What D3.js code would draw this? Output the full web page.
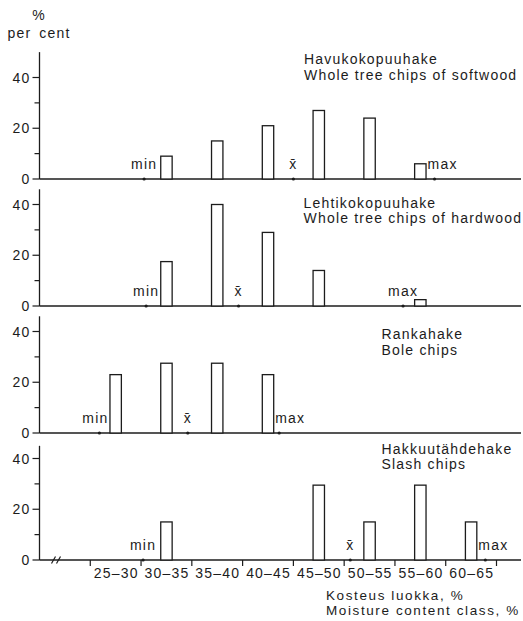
<!DOCTYPE html>
<html>
<head>
<meta charset="utf-8">
<script src="https://cdn.jsdelivr.net/npm/d3@7"></script>
<style>
  html, body { margin: 0; padding: 0; background: #fff; }
  svg text { font-family: "Liberation Sans", Arial, sans-serif; fill: #1c1c1c; letter-spacing: 1.2px; }
</style>
</head>
<body>
<svg id="chart" width="523" height="621"></svg>
<script>
// ---------- DATA ----------
const classLabels = ["25–30", "30–35", "35–40", "40–45", "45–50", "50–55", "55–60", "60–65"];
const classStart  = [25, 30, 35, 40, 45, 50, 55, 60];
const classWidth  = 5;

const panelNamesFi = ["Havukokopuuhake", "Lehtikokopuuhake", "Rankahake", "Hakkuutähdehake"];
const panelNamesEn = ["Whole tree chips of softwood", "Whole tree chips of hardwood", "Bole chips", "Slash chips"];

const softwood = [0, 9, 15, 21, 27, 24, 6, 0];
const hardwood = [0, 17.5, 40, 29, 14, 0, 2.5, 0];
const bole     = [23, 27.5, 27.5, 23, 0, 0, 0, 0];
const slash    = [0, 15, 0, 0, 29.5, 15, 29.5, 15];

// moisture statistics (min, mean, max), %
const statMin  = [30.3, 30.5, 25.9, 30.2];
const statMean = [45.0, 39.6, 34.6, 50.6];
const statMax  = [58.9, 55.8, 43.6, 63.9];

const yTicks = [0, 10, 20, 30, 40];
const yTickLabels = ["0", "", "20", "", "40"];
const xTicks = [25, 30, 35, 40, 45, 50, 55, 60, 65];

const seriesList = [softwood, hardwood, bole, slash];

// ---------- LAYOUT (styles / positions) ----------
const svg = d3.select("#chart");
const axisX0 = 39.5;
const x = d3.scaleLinear().domain([20, 65]).range([axisX0, 496.5]);
const xEnd = 521;
const firstBase = 179, panelStep = 127, pxPer40 = 101.5;
const axisTopValue = [50, 46, 46, 45];
const titlePos = [ {x: 304, y: 64}, {x: 303.5, y: 207.5}, {x: 381.5, y: 339}, {x: 381.5, y: 453.5} ];
const barW = 11.4;
const ink = "#1c1c1c";

seriesList.forEach((vals, i) => {
  const base = firstBase + i * panelStep;
  const y = d3.scaleLinear().domain([0, 40]).range([base, base - pxPer40]);
  const g = svg.append("g");

  // y axis line
  g.append("line").attr("x1", axisX0).attr("x2", axisX0)
    .attr("y1", y(axisTopValue[i])).attr("y2", base)
    .attr("stroke", ink).attr("stroke-width", 1.3);
  // y ticks
  yTicks.forEach((t, k) => {
    const major = yTickLabels[k] !== "";
    g.append("line").attr("x1", axisX0 - (major ? 7 : 5)).attr("x2", axisX0)
      .attr("y1", y(t)).attr("y2", y(t)).attr("stroke", ink).attr("stroke-width", 1.2);
    if (major) {
      g.append("text").attr("x", axisX0 - 9).attr("y", y(t) + 5)
        .attr("text-anchor", "end").attr("font-size", 14).text(yTickLabels[k]);
    }
  });
  // x axis line
  g.append("line").attr("x1", axisX0).attr("x2", xEnd).attr("y1", base).attr("y2", base)
    .attr("stroke", ink).attr("stroke-width", 1.3);

  // bars
  const bars = [];
  vals.forEach((v, k) => {
    if (v <= 0) return;
    const cx = x(classStart[k] + classWidth / 2);
    const r = {x0: cx - barW / 2, x1: cx + barW / 2, top: y(v)};
    bars.push(r);
    g.append("rect").attr("x", r.x0).attr("y", r.top).attr("width", barW).attr("height", base - r.top)
      .attr("fill", "#fff").attr("stroke", ink).attr("stroke-width", 1.3);
  });

  // statistic markers
  const marks = [
    {v: statMin[i], label: "min"},
    {v: statMean[i], label: "x\u0304"},
    {v: statMax[i], label: "max"}
  ];
  const labelBase = base - 10;
  marks.forEach(m => {
    const dx = x(m.v);
    g.append("circle").attr("cx", dx).attr("cy", base).attr("r", 1.6).attr("fill", ink);
    const t = g.append("text").attr("x", dx).attr("y", labelBase)
      .attr("text-anchor", "middle").attr("font-size", 14).text(m.label);
    const w = t.node().getComputedTextLength();
    let left = dx - w / 2, right = dx + w / 2;
    bars.forEach(b => {
      if (b.top < labelBase && right > b.x0 - 1 && left < b.x1 + 1) {
        if (dx < (b.x0 + b.x1) / 2) { right = b.x0 - 1.5; left = right - w; }
        else { left = b.x1 + 1.5; right = left + w; }
      }
    });
    t.attr("text-anchor", "start").attr("x", left);
  });

  // panel titles
  g.append("text").attr("x", titlePos[i].x).attr("y", titlePos[i].y).attr("font-size", 14).text(panelNamesFi[i]);
  g.append("text").attr("x", titlePos[i].x).attr("y", titlePos[i].y + 15.5).attr("font-size", 14).text(panelNamesEn[i]);

  // bottom panel: x ticks, labels, break mark
  if (i === seriesList.length - 1) {
    xTicks.forEach(t => {
      g.append("line").attr("x1", x(t)).attr("x2", x(t)).attr("y1", base).attr("y2", base + 6)
        .attr("stroke", ink).attr("stroke-width", 1.2);
    });
    classLabels.forEach((lab, k) => {
      g.append("text").attr("x", x(classStart[k] + classWidth / 2) + 0.6).attr("y", base + 18)
        .attr("text-anchor", "middle").attr("font-size", 14).text(lab);
    });
    [53.5, 58.5].forEach(bx => {
      g.append("line").attr("x1", bx - 2).attr("x2", bx + 2).attr("y1", base + 3.5).attr("y2", base - 3.5)
        .attr("stroke", ink).attr("stroke-width", 1.2);
    });
  }
});

// header and axis title
svg.append("text").attr("x", 39).attr("y", 19.5).attr("text-anchor", "middle").attr("font-size", 14).text("%");
svg.append("text").attr("x", 39).attr("y", 37.5).attr("text-anchor", "middle").attr("font-size", 14).attr("word-spacing", 3).text("per cent");
svg.append("text").attr("x", 326).attr("y", 599.5).attr("font-size", 13.5).style("letter-spacing", "1.6px").text("Kosteus luokka, %");
svg.append("text").attr("x", 326).attr("y", 614.5).attr("font-size", 13.5).style("letter-spacing", "1.6px").text("Moisture content class, %");
</script>
</body>
</html>
